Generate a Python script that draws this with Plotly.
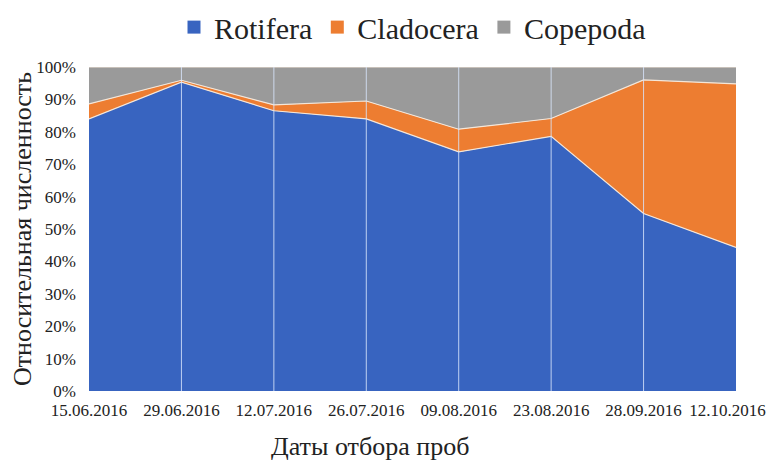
import plotly.graph_objects as go

dates = ["15.06.2016", "29.06.2016", "12.07.2016", "26.07.2016",
         "09.08.2016", "23.08.2016", "28.09.2016", "12.10.2016"]
rotifera = [84.0, 95.3, 86.5, 84.0, 73.8, 78.6, 54.8, 44.3]
cladocera = [4.6, 0.6, 1.8, 5.5, 7.0, 5.5, 41.2, 50.5]
copepoda = [round(100 - r - c, 1) for r, c in zip(rotifera, cladocera)]
yticks = [0, 10, 20, 30, 40, 50, 60, 70, 80, 90, 100]

series = [("Rotifera", rotifera, "#3864c0"),
          ("Cladocera", cladocera, "#ed7d31"),
          ("Copepoda", copepoda, "#9a9a9a")]

FONT = '"Times New Roman", "Liberation Serif", serif'
xs = list(range(len(dates)))
# keep the last label inside the page (nudged left like the original)
ticktext = dates[:-1] + [dates[-1] + "\u00a0" * 4]

fig = go.Figure()
for name, vals, col in series:
    fig.add_trace(go.Scatter(
        x=xs, y=vals, name=name, stackgroup="one",
        mode="lines", line=dict(color="#f4e6d8", width=1.2),
        fillcolor=col, showlegend=False,
    ))
for name, vals, col in series:
    fig.add_trace(go.Scatter(
        x=[None], y=[None], name=name, mode="markers",
        marker=dict(symbol="square", size=13, color=col),
    ))

for i in xs[1:-1]:
    fig.add_shape(type="line", x0=i, x1=i, y0=0, y1=1, xref="x", yref="paper",
                  line=dict(color="rgba(215,228,250,0.85)", width=1), layer="above")

fig.add_annotation(text="Даты отбора проб", xref="paper", yref="paper",
                   x=0.434, y=-0.172, xanchor="center", yanchor="middle",
                   showarrow=False, font=dict(family=FONT, size=26, color="#222"))

fig.update_layout(
    width=766, height=455,
    margin=dict(l=81, r=38, t=59, b=72),
    paper_bgcolor="white", plot_bgcolor="white",
    font=dict(family=FONT, color="#222"),
    legend=dict(orientation="h", x=0.5, xanchor="center", yref="container",
                y=0.958, yanchor="middle",
                font=dict(family=FONT, size=30, color="#222"),
                traceorder="normal", itemsizing="trace"),
    xaxis=dict(
        tickmode="array", tickvals=xs, ticktext=ticktext, tickangle=0,
        range=[0, len(dates) - 1], showgrid=False, automargin=False,
        zeroline=False, showline=False, ticklabelstandoff=7,
        ticklabeloverflow="allow",
        tickfont=dict(family=FONT, size=17), ticks="",
    ),
    yaxis=dict(
        tickmode="array", tickvals=yticks, ticktext=[f"{v}%" for v in yticks],
        range=[0, 100], showgrid=False, zeroline=False, showline=False,
        automargin=False,
        tickfont=dict(family=FONT, size=17), ticks="", ticklabelstandoff=12,
        title=dict(text="Относительная численность", font=dict(family=FONT, size=26), standoff=5),
    ),
)

fig.write_html("out.html")
